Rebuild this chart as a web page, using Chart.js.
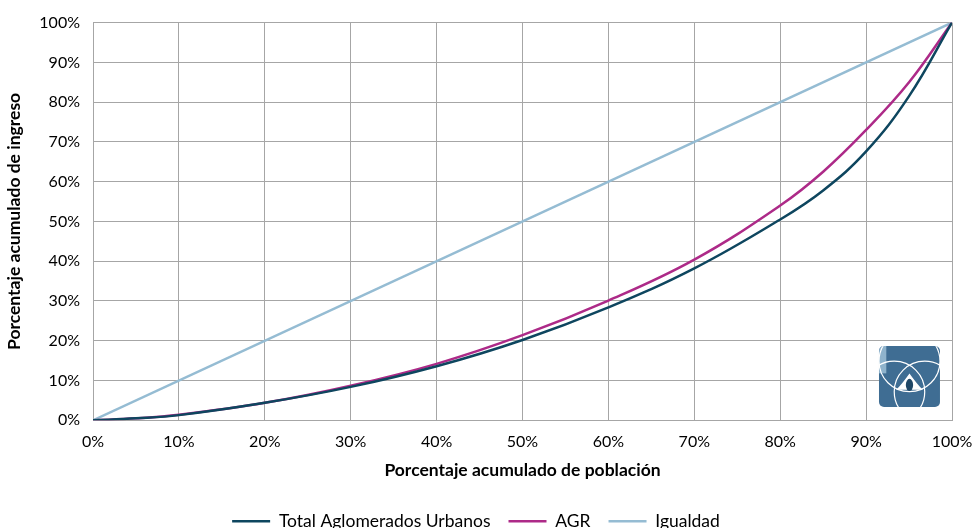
<!DOCTYPE html>
<html>
<head>
<meta charset="utf-8">
<script src="https://cdn.jsdelivr.net/npm/chart.js@4"></script>
<style>
html,body{margin:0;padding:0;background:#fff;overflow:hidden;}
#wrap{width:975px;height:540px;}
</style>
</head>
<body>
<div id="wrap"><canvas id="c" width="975" height="540"></canvas></div>
<script>
// Population share (%) at each point
const poblacion = [0, 5, 10, 20, 30, 40, 50, 60, 70, 80, 85, 90, 95, 100];
// Cumulative income share (%) - Total Aglomerados Urbanos
const totalAglomerados = [0, 0.5, 1.3, 4.4, 8.4, 13.6, 20.2, 28.4, 38.2, 50.5, 57.8, 67.6, 81.5, 100];
// Cumulative income share (%) - AGR
const agr = [0, 0.5, 1.4, 4.4, 8.7, 14.2, 21.4, 30.1, 40.4, 54.0, 62.5, 73.0, 85.0, 100];
// Equality line
const igualdadX = [0, 100];
const igualdadY = [0, 100];
const tickValues = [0, 10, 20, 30, 40, 50, 60, 70, 80, 90, 100];

const toPts = (xs, ys) => xs.map((x, i) => ({x: x, y: ys[i]}));
const FONT = 'Lato, "Liberation Sans", sans-serif';

const logoPlugin = {
  id: 'logo',
  afterDraw(chart) {
    const ctx = chart.ctx, a = chart.chartArea;
    const w = a.right - a.left, h = a.bottom - a.top;
    const x0 = a.left + w * 0.915, y0 = a.top + h * 0.813, s = w * 0.071;
    ctx.save();
    const r = 5;
    ctx.beginPath();
    ctx.moveTo(x0 + r, y0);
    ctx.arcTo(x0 + s, y0, x0 + s, y0 + s, r);
    ctx.arcTo(x0 + s, y0 + s, x0, y0 + s, r);
    ctx.arcTo(x0, y0 + s, x0, y0, r);
    ctx.arcTo(x0, y0, x0 + s, y0, r);
    ctx.closePath();
    ctx.fillStyle = '#3f6d93';
    ctx.fill();
    ctx.clip();
    ctx.fillStyle = '#8fb3cc';
    ctx.fillRect(x0, y0, s * 0.12, s * 0.45);
    ctx.strokeStyle = '#ffffff';
    ctx.lineWidth = 1.2;
    ctx.beginPath(); ctx.arc(x0 + s * 0.25, y0 + s * 0.75, s * 0.5, 0, Math.PI * 2); ctx.stroke();
    ctx.beginPath(); ctx.arc(x0 + s * 0.75, y0 + s * 0.75, s * 0.5, 0, Math.PI * 2); ctx.stroke();
    ctx.beginPath(); ctx.arc(x0 + s * 0.5, y0 + s * 0.25, s * 0.5, 0, Math.PI * 2); ctx.stroke();
    ctx.fillStyle = '#ffffff';
    ctx.beginPath();
    ctx.moveTo(x0 + s * 0.5, y0 + s * 0.45);
    ctx.quadraticCurveTo(x0 + s * 0.62, y0 + s * 0.62, x0 + s * 0.72, y0 + s * 0.72);
    ctx.lineTo(x0 + s * 0.28, y0 + s * 0.72);
    ctx.quadraticCurveTo(x0 + s * 0.38, y0 + s * 0.62, x0 + s * 0.5, y0 + s * 0.45);
    ctx.fill();
    ctx.fillStyle = '#1f4766';
    ctx.beginPath();
    ctx.ellipse(x0 + s * 0.5, y0 + s * 0.64, s * 0.06, s * 0.1, 0, 0, Math.PI * 2);
    ctx.fill();
    ctx.restore();
  }
};

new Chart(document.getElementById('c'), {
  type: 'scatter',
  data: {
    datasets: [
      {
        label: 'Total Aglomerados Urbanos',
        data: toPts(poblacion, totalAglomerados),
        showLine: true, borderColor: '#0e465f', backgroundColor: '#0e465f',
        borderWidth: 2.5, pointRadius: 0, tension: 0.4
      },
      {
        label: 'AGR',
        data: toPts(poblacion, agr),
        showLine: true, borderColor: '#ad2a88', backgroundColor: '#ad2a88',
        borderWidth: 2.5, pointRadius: 0, tension: 0.4
      },
      {
        label: 'Igualdad',
        data: toPts(igualdadX, igualdadY),
        showLine: true, borderColor: '#95bcd3', backgroundColor: '#95bcd3',
        borderWidth: 2.5, pointRadius: 0
      }
    ]
  },
  options: {
    responsive: false,
    animation: false,
    layout: {padding: {top: 22, right: 23, left: 0, bottom: 0}},
    plugins: {
      tooltip: {enabled: false},
      legend: {
        position: 'bottom',
        labels: {
          usePointStyle: true,
          pointStyle: 'line',
          pointStyleWidth: 38,
          boxHeight: 2,
          padding: 18,
          color: '#000',
          font: {family: FONT, size: 17.5}
        }
      }
    },
    scales: {
      x: {
        type: 'linear', min: 0, max: 100,
        afterBuildTicks: s => { s.ticks = tickValues.map(v => ({value: v})); },
        afterFit: s => { s.paddingRight = 0; s.paddingLeft = 0; },
        ticks: {callback: v => v + '%', color: '#000', font: {family: FONT, size: 16}, padding: 12, maxRotation: 0},
        grid: {color: '#a6a6a6', lineWidth: 1, tickLength: 0, drawTicks: false},
        border: {color: '#a6a6a6'},
        title: {display: true, text: 'Porcentaje acumulado de población', color: '#000',
                font: {family: FONT, size: 17.5, weight: 'bold'}, padding: {top: -4, bottom: 14}}
      },
      y: {
        type: 'linear', min: 0, max: 100,
        afterBuildTicks: s => { s.ticks = tickValues.map(v => ({value: v})); },
        afterFit: s => { s.width = 93; },
        ticks: {callback: v => v + '%', color: '#000', font: {family: FONT, size: 16}, padding: 13},
        grid: {color: '#a6a6a6', lineWidth: 1, tickLength: 0, drawTicks: false},
        border: {color: '#a6a6a6'},
        title: {display: true, text: 'Porcentaje acumulado de ingreso', color: '#000',
                font: {family: FONT, size: 17.5, weight: 'bold'}, padding: {top: 4, bottom: 0}}
      }
    }
  },
  plugins: [logoPlugin]
});
</script>
</body>
</html>
